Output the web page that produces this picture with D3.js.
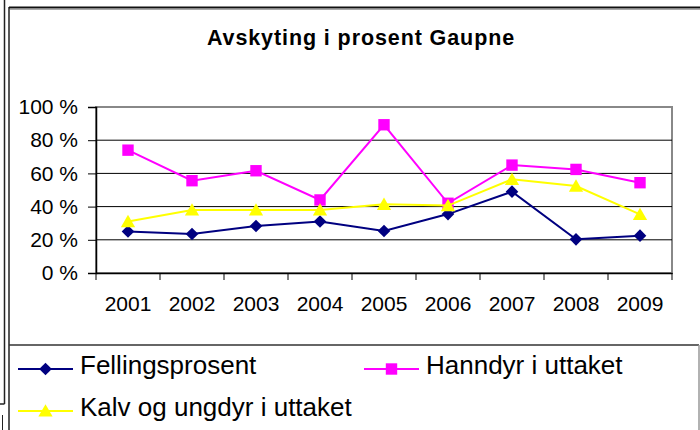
<!DOCTYPE html>
<html>
<head>
<meta charset="utf-8">
<script src="https://cdn.jsdelivr.net/npm/d3@7"></script>
<style>
  body { margin: 0; background: #fff; }
  svg { display: block; font-family: "Liberation Sans", Arial, sans-serif; }
</style>
</head>
<body>
<svg id="chart" width="700" height="430"></svg>
<script>
const years = ["2001", "2002", "2003", "2004", "2005", "2006", "2007", "2008", "2009"];
const fellingsprosent = [0.25, 0.235, 0.283, 0.31, 0.253, 0.355, 0.49, 0.203, 0.225];
const hanndyr = [0.74, 0.556, 0.616, 0.44, 0.893, 0.42, 0.65, 0.624, 0.544];
const kalvUngdyr = [0.31, 0.38, 0.38, 0.38, 0.414, 0.406, 0.564, 0.524, 0.353];
const yTicks = [0, 0.2, 0.4, 0.6, 0.8, 1];

const series = [
    { name: "Fellingsprosent", values: fellingsprosent, color: "#000080", shape: "diamond" },
    { name: "Hanndyr i uttaket", values: hanndyr, color: "#ff00ff", shape: "square" },
    { name: "Kalv og ungdyr i uttaket", values: kalvUngdyr, color: "#ffff00", shape: "triangle" }
];

const svg = d3.select("#chart");

// frame lines from the scanned document
svg.append("line").attr("x1", 4.5).attr("x2", 4.5).attr("y1", 0).attr("y2", 404).attr("stroke", "#222").attr("stroke-width", 1.5);
svg.append("line").attr("x1", 0).attr("x2", 4.5).attr("y1", 404).attr("y2", 404).attr("stroke", "#222").attr("stroke-width", 1.5);
svg.append("line").attr("x1", 2.5).attr("x2", 2.5).attr("y1", 415).attr("y2", 430).attr("stroke", "#222").attr("stroke-width", 1);
svg.append("line").attr("x1", 9).attr("x2", 9).attr("y1", 7).attr("y2", 430).attr("stroke", "#222").attr("stroke-width", 1.5);
svg.append("line").attr("x1", 9).attr("x2", 700).attr("y1", 7.5).attr("y2", 7.5).attr("stroke", "#111").attr("stroke-width", 2);
svg.append("line").attr("x1", 10).attr("x2", 700).attr("y1", 9.5).attr("y2", 9.5).attr("stroke", "#aaa").attr("stroke-width", 1);

// title
svg.append("text")
    .attr("x", 361).attr("y", 45)
    .attr("text-anchor", "middle")
    .style("font-size", "21.5px").style("font-weight", "bold").style("letter-spacing", "0.9px")
    .text("Avskyting i prosent Gaupne");

const x = d3.scaleBand().domain(years).range([96, 672]);
const y = d3.scaleLinear().domain([0, 1]).range([273, 107]);

// plot area border (grey)
svg.append("rect")
    .attr("x", 96).attr("y", 107).attr("width", 576).attr("height", 166)
    .attr("fill", "none").attr("stroke", "#888").attr("stroke-width", 2);

// gridlines
svg.append("g").selectAll("line")
    .data(yTicks.filter(d => d > 0 && d < 1))
    .enter().append("line")
    .attr("x1", 96).attr("x2", 672)
    .attr("y1", d => y(d)).attr("y2", d => y(d))
    .attr("stroke", "#000").attr("stroke-width", 1);

// y axis
const yAxis = svg.append("g")
    .attr("transform", "translate(96,0)")
    .call(d3.axisLeft(y).tickValues(yTicks).tickFormat(d => Math.round(d * 100) + " %").tickSize(8).tickPadding(10));
yAxis.select(".domain").attr("stroke", "#000").attr("stroke-width", 1.5);
yAxis.selectAll(".tick line").attr("stroke", "#000");
yAxis.selectAll("text").style("font-size", "21px").attr("fill", "#000").attr("font-family", null);

// x axis
const xAxis = svg.append("g")
    .attr("transform", "translate(0,273)")
    .call(d3.axisBottom(x).tickSize(0).tickPadding(23));
xAxis.select(".domain").attr("stroke", "#000").attr("stroke-width", 1.5);
xAxis.selectAll("text").style("font-size", "21px").attr("fill", "#000").attr("font-family", null);
xAxis.selectAll(".bound")
    .data(years.map(d => x(d)).concat([x.range()[1]]))
    .enter().append("line")
    .attr("x1", d => d).attr("x2", d => d)
    .attr("y1", 0).attr("y2", 7)
    .attr("stroke", "#000");

const symbols = {
    diamond: d3.symbol().type(d3.symbolSquare).size(80),
    square: d3.symbol().type(d3.symbolSquare).size(130),
    triangle: d3.symbol().type(d3.symbolTriangle).size(88)
};

function markerTransform(shape) {
    if (shape == "diamond") return " rotate(45)";
    if (shape == "triangle") return " translate(0,1.5)";
    return "";
}

const line = d3.line()
    .x((d, i) => x(years[i]) + x.bandwidth() / 2)
    .y(d => y(d));

series.forEach(s => {
    const g = svg.append("g");
    g.append("path")
        .datum(s.values)
        .attr("d", line)
        .attr("fill", "none")
        .attr("stroke", s.color)
        .attr("stroke-width", 2);
    g.selectAll(".m")
        .data(s.values)
        .enter().append("path")
        .attr("d", symbols[s.shape]())
        .attr("fill", s.color)
        .attr("transform", (d, i) =>
            "translate(" + (x(years[i]) + x.bandwidth() / 2) + "," + y(d) + ")" + markerTransform(s.shape));
});

// legend box
svg.append("line").attr("x1", 9).attr("x2", 699).attr("y1", 345).attr("y2", 345).attr("stroke", "#333").attr("stroke-width", 1.5);
svg.append("line").attr("x1", 699).attr("x2", 699).attr("y1", 345).attr("y2", 430).attr("stroke", "#999").attr("stroke-width", 1.5);

const legendPos = [
    { x: 18, y: 369 },
    { x: 364, y: 369 },
    { x: 18, y: 411 }
];

series.forEach((s, i) => {
    const p = legendPos[i];
    const g = svg.append("g").attr("transform", "translate(" + p.x + "," + p.y + ")");
    g.append("line").attr("x1", 0).attr("x2", 55).attr("y1", 0).attr("y2", 0)
        .attr("stroke", s.color).attr("stroke-width", 2);
    g.append("path")
        .attr("d", symbols[s.shape]())
        .attr("fill", s.color)
        .attr("transform", "translate(27.5,0)" + markerTransform(s.shape));
    g.append("text")
        .attr("x", 62).attr("y", -3)
        .attr("dy", "0.3em")
        .style("font-size", "26px")
        .text(s.name);
});
</script>
</body>
</html>
